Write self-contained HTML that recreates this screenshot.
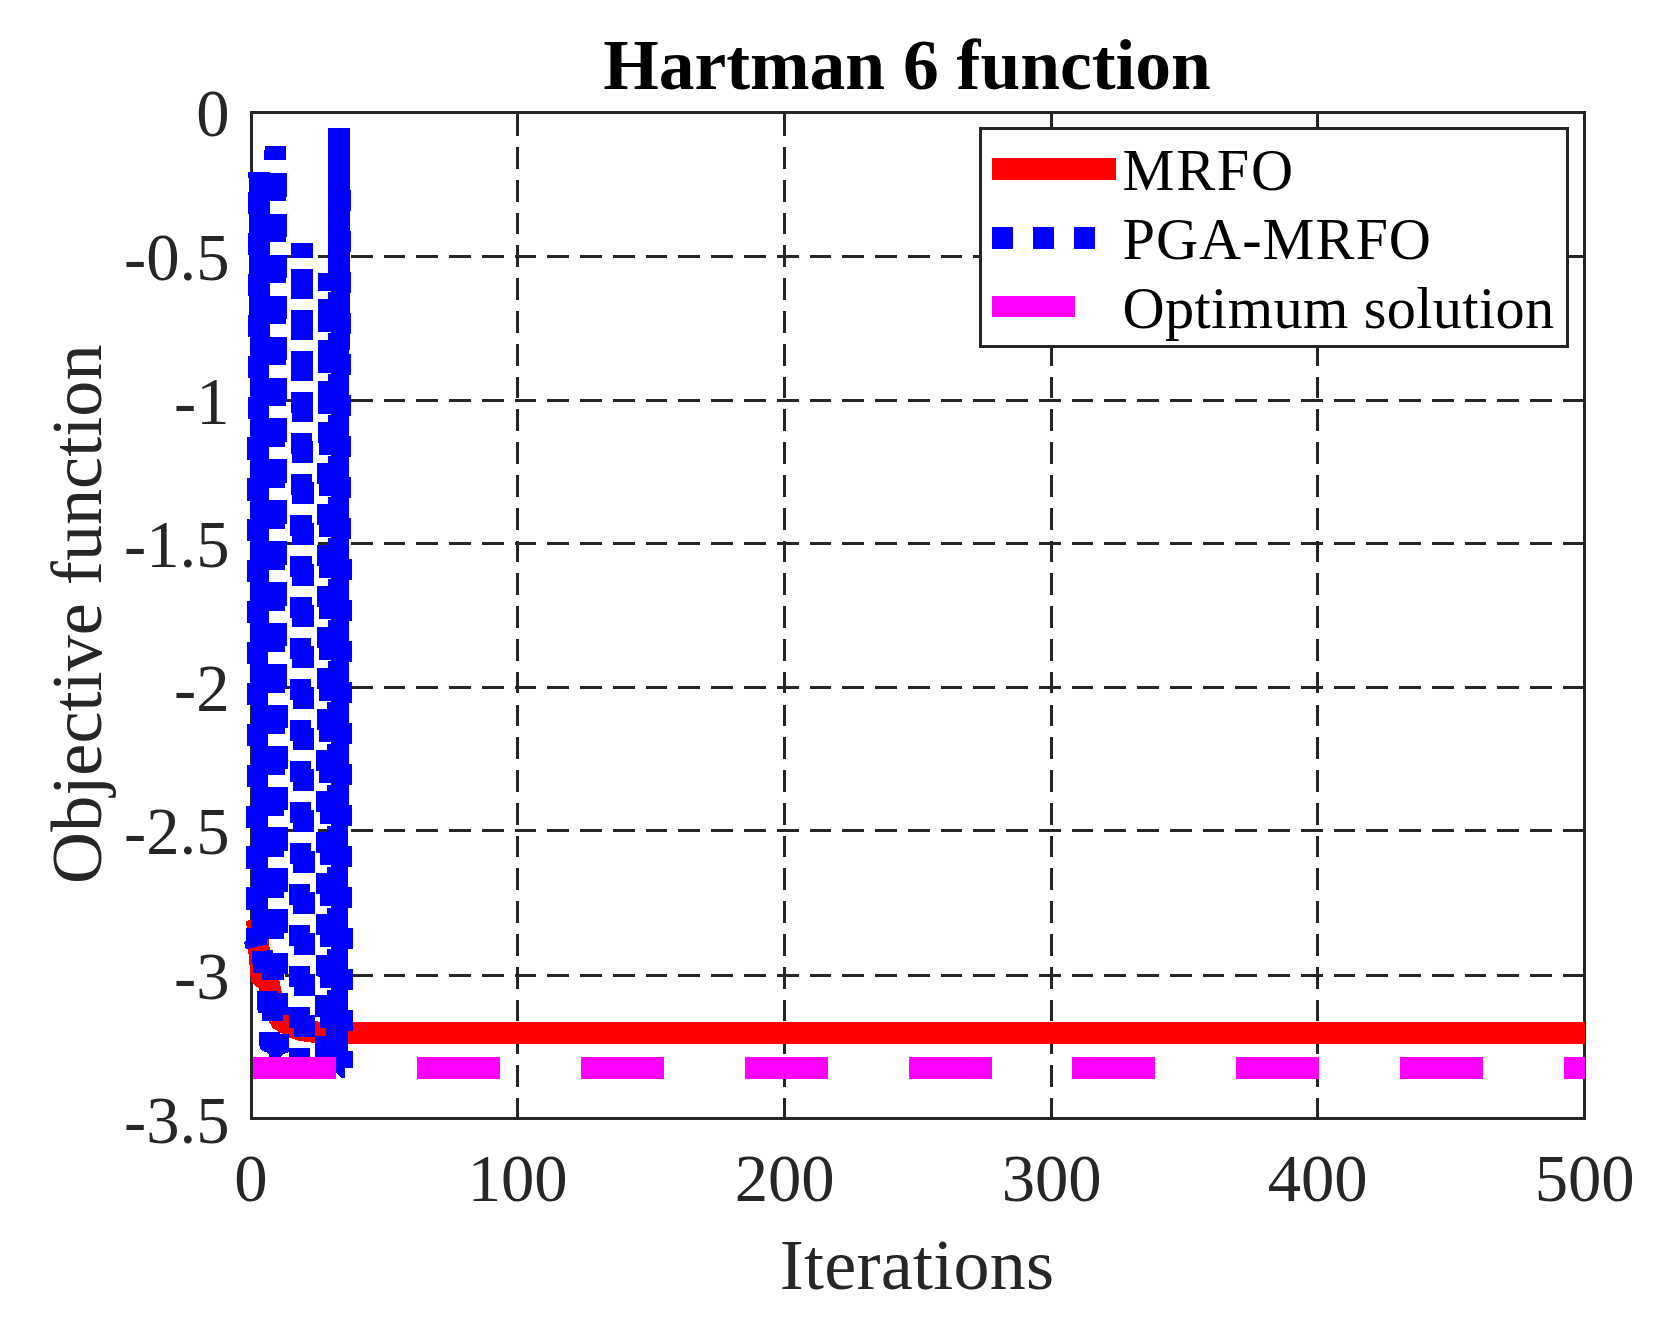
<!DOCTYPE html>
<html lang="en"><head><meta charset="utf-8"><title>Hartman 6 function</title>
<style>html,body{margin:0;padding:0;background:#fff;}body{width:1669px;height:1328px;overflow:hidden;}svg{display:block;}text{font-family:"Liberation Serif","Times New Roman",serif;}</style></head><body>
<svg width="1669" height="1328" viewBox="0 0 1669 1328" shape-rendering="crispEdges">
<rect width="1669" height="1328" fill="#fff"/>
<path fill="#262626" d="M253 255H274V258H253ZM285 255H307V258H285ZM318 255H340V258H318ZM351 255H373V258H351ZM384 255H405V258H384ZM416 255H438V258H416ZM449 255H471V258H449ZM482 255H504V258H482ZM515 255H536V258H515ZM547 255H569V258H547ZM580 255H602V258H580ZM613 255H635V258H613ZM646 255H667V258H646ZM678 255H700V258H678ZM711 255H733V258H711ZM744 255H766V258H744ZM777 255H799V258H777ZM810 255H831V258H810ZM842 255H864V258H842ZM875 255H897V258H875ZM908 255H930V258H908ZM941 255H962V258H941ZM973 255H995V258H973ZM1006 255H1028V258H1006ZM1039 255H1061V258H1039ZM1072 255H1093V258H1072ZM1104 255H1126V258H1104ZM1137 255H1159V258H1137ZM1170 255H1192V258H1170ZM1203 255H1224V258H1203ZM1235 255H1257V258H1235ZM1268 255H1290V258H1268ZM1301 255H1323V258H1301ZM1334 255H1355V258H1334ZM1366 255H1388V258H1366ZM1399 255H1421V258H1399ZM1432 255H1454V258H1432ZM1465 255H1486V258H1465ZM1497 255H1519V258H1497ZM1530 255H1552V258H1530ZM1563 255H1584V258H1563ZM253 399H274V402H253ZM285 399H307V402H285ZM318 399H340V402H318ZM351 399H373V402H351ZM384 399H405V402H384ZM416 399H438V402H416ZM449 399H471V402H449ZM482 399H504V402H482ZM515 399H536V402H515ZM547 399H569V402H547ZM580 399H602V402H580ZM613 399H635V402H613ZM646 399H667V402H646ZM678 399H700V402H678ZM711 399H733V402H711ZM744 399H766V402H744ZM777 399H799V402H777ZM810 399H831V402H810ZM842 399H864V402H842ZM875 399H897V402H875ZM908 399H930V402H908ZM941 399H962V402H941ZM973 399H995V402H973ZM1006 399H1028V402H1006ZM1039 399H1061V402H1039ZM1072 399H1093V402H1072ZM1104 399H1126V402H1104ZM1137 399H1159V402H1137ZM1170 399H1192V402H1170ZM1203 399H1224V402H1203ZM1235 399H1257V402H1235ZM1268 399H1290V402H1268ZM1301 399H1323V402H1301ZM1334 399H1355V402H1334ZM1366 399H1388V402H1366ZM1399 399H1421V402H1399ZM1432 399H1454V402H1432ZM1465 399H1486V402H1465ZM1497 399H1519V402H1497ZM1530 399H1552V402H1530ZM1563 399H1584V402H1563ZM253 542H274V545H253ZM285 542H307V545H285ZM318 542H340V545H318ZM351 542H373V545H351ZM384 542H405V545H384ZM416 542H438V545H416ZM449 542H471V545H449ZM482 542H504V545H482ZM515 542H536V545H515ZM547 542H569V545H547ZM580 542H602V545H580ZM613 542H635V545H613ZM646 542H667V545H646ZM678 542H700V545H678ZM711 542H733V545H711ZM744 542H766V545H744ZM777 542H799V545H777ZM810 542H831V545H810ZM842 542H864V545H842ZM875 542H897V545H875ZM908 542H930V545H908ZM941 542H962V545H941ZM973 542H995V545H973ZM1006 542H1028V545H1006ZM1039 542H1061V545H1039ZM1072 542H1093V545H1072ZM1104 542H1126V545H1104ZM1137 542H1159V545H1137ZM1170 542H1192V545H1170ZM1203 542H1224V545H1203ZM1235 542H1257V545H1235ZM1268 542H1290V545H1268ZM1301 542H1323V545H1301ZM1334 542H1355V545H1334ZM1366 542H1388V545H1366ZM1399 542H1421V545H1399ZM1432 542H1454V545H1432ZM1465 542H1486V545H1465ZM1497 542H1519V545H1497ZM1530 542H1552V545H1530ZM1563 542H1584V545H1563ZM253 686H274V689H253ZM285 686H307V689H285ZM318 686H340V689H318ZM351 686H373V689H351ZM384 686H405V689H384ZM416 686H438V689H416ZM449 686H471V689H449ZM482 686H504V689H482ZM515 686H536V689H515ZM547 686H569V689H547ZM580 686H602V689H580ZM613 686H635V689H613ZM646 686H667V689H646ZM678 686H700V689H678ZM711 686H733V689H711ZM744 686H766V689H744ZM777 686H799V689H777ZM810 686H831V689H810ZM842 686H864V689H842ZM875 686H897V689H875ZM908 686H930V689H908ZM941 686H962V689H941ZM973 686H995V689H973ZM1006 686H1028V689H1006ZM1039 686H1061V689H1039ZM1072 686H1093V689H1072ZM1104 686H1126V689H1104ZM1137 686H1159V689H1137ZM1170 686H1192V689H1170ZM1203 686H1224V689H1203ZM1235 686H1257V689H1235ZM1268 686H1290V689H1268ZM1301 686H1323V689H1301ZM1334 686H1355V689H1334ZM1366 686H1388V689H1366ZM1399 686H1421V689H1399ZM1432 686H1454V689H1432ZM1465 686H1486V689H1465ZM1497 686H1519V689H1497ZM1530 686H1552V689H1530ZM1563 686H1584V689H1563ZM253 829H274V832H253ZM285 829H307V832H285ZM318 829H340V832H318ZM351 829H373V832H351ZM384 829H405V832H384ZM416 829H438V832H416ZM449 829H471V832H449ZM482 829H504V832H482ZM515 829H536V832H515ZM547 829H569V832H547ZM580 829H602V832H580ZM613 829H635V832H613ZM646 829H667V832H646ZM678 829H700V832H678ZM711 829H733V832H711ZM744 829H766V832H744ZM777 829H799V832H777ZM810 829H831V832H810ZM842 829H864V832H842ZM875 829H897V832H875ZM908 829H930V832H908ZM941 829H962V832H941ZM973 829H995V832H973ZM1006 829H1028V832H1006ZM1039 829H1061V832H1039ZM1072 829H1093V832H1072ZM1104 829H1126V832H1104ZM1137 829H1159V832H1137ZM1170 829H1192V832H1170ZM1203 829H1224V832H1203ZM1235 829H1257V832H1235ZM1268 829H1290V832H1268ZM1301 829H1323V832H1301ZM1334 829H1355V832H1334ZM1366 829H1388V832H1366ZM1399 829H1421V832H1399ZM1432 829H1454V832H1432ZM1465 829H1486V832H1465ZM1497 829H1519V832H1497ZM1530 829H1552V832H1530ZM1563 829H1584V832H1563ZM253 974H274V977H253ZM285 974H307V977H285ZM318 974H340V977H318ZM351 974H373V977H351ZM384 974H405V977H384ZM416 974H438V977H416ZM449 974H471V977H449ZM482 974H504V977H482ZM515 974H536V977H515ZM547 974H569V977H547ZM580 974H602V977H580ZM613 974H635V977H613ZM646 974H667V977H646ZM678 974H700V977H678ZM711 974H733V977H711ZM744 974H766V977H744ZM777 974H799V977H777ZM810 974H831V977H810ZM842 974H864V977H842ZM875 974H897V977H875ZM908 974H930V977H908ZM941 974H962V977H941ZM973 974H995V977H973ZM1006 974H1028V977H1006ZM1039 974H1061V977H1039ZM1072 974H1093V977H1072ZM1104 974H1126V977H1104ZM1137 974H1159V977H1137ZM1170 974H1192V977H1170ZM1203 974H1224V977H1203ZM1235 974H1257V977H1235ZM1268 974H1290V977H1268ZM1301 974H1323V977H1301ZM1334 974H1355V977H1334ZM1366 974H1388V977H1366ZM1399 974H1421V977H1399ZM1432 974H1454V977H1432ZM1465 974H1486V977H1465ZM1497 974H1519V977H1497ZM1530 974H1552V977H1530ZM1563 974H1584V977H1563ZM516 114H519V136H516ZM516 147H519V169H516ZM516 180H519V202H516ZM516 213H519V234H516ZM516 245H519V267H516ZM516 278H519V300H516ZM516 311H519V333H516ZM516 344H519V366H516ZM516 377H519V398H516ZM516 409H519V431H516ZM516 442H519V464H516ZM516 475H519V497H516ZM516 508H519V530H516ZM516 541H519V562H516ZM516 573H519V595H516ZM516 606H519V628H516ZM516 639H519V661H516ZM516 672H519V693H516ZM516 705H519V726H516ZM516 737H519V759H516ZM516 770H519V792H516ZM516 803H519V825H516ZM516 836H519V857H516ZM516 868H519V890H516ZM516 901H519V923H516ZM516 934H519V956H516ZM516 967H519V989H516ZM516 1000H519V1021H516ZM516 1032H519V1054H516ZM516 1065H519V1087H516ZM516 1098H519V1118H516ZM783 114H786V136H783ZM783 147H786V169H783ZM783 180H786V202H783ZM783 213H786V234H783ZM783 245H786V267H783ZM783 278H786V300H783ZM783 311H786V333H783ZM783 344H786V366H783ZM783 377H786V398H783ZM783 409H786V431H783ZM783 442H786V464H783ZM783 475H786V497H783ZM783 508H786V530H783ZM783 541H786V562H783ZM783 573H786V595H783ZM783 606H786V628H783ZM783 639H786V661H783ZM783 672H786V693H783ZM783 705H786V726H783ZM783 737H786V759H783ZM783 770H786V792H783ZM783 803H786V825H783ZM783 836H786V857H783ZM783 868H786V890H783ZM783 901H786V923H783ZM783 934H786V956H783ZM783 967H786V989H783ZM783 1000H786V1021H783ZM783 1032H786V1054H783ZM783 1065H786V1087H783ZM783 1098H786V1118H783ZM1050 114H1053V136H1050ZM1050 147H1053V169H1050ZM1050 180H1053V202H1050ZM1050 213H1053V234H1050ZM1050 245H1053V267H1050ZM1050 278H1053V300H1050ZM1050 311H1053V333H1050ZM1050 344H1053V366H1050ZM1050 377H1053V398H1050ZM1050 409H1053V431H1050ZM1050 442H1053V464H1050ZM1050 475H1053V497H1050ZM1050 508H1053V530H1050ZM1050 541H1053V562H1050ZM1050 573H1053V595H1050ZM1050 606H1053V628H1050ZM1050 639H1053V661H1050ZM1050 672H1053V693H1050ZM1050 705H1053V726H1050ZM1050 737H1053V759H1050ZM1050 770H1053V792H1050ZM1050 803H1053V825H1050ZM1050 836H1053V857H1050ZM1050 868H1053V890H1050ZM1050 901H1053V923H1050ZM1050 934H1053V956H1050ZM1050 967H1053V989H1050ZM1050 1000H1053V1021H1050ZM1050 1032H1053V1054H1050ZM1050 1065H1053V1087H1050ZM1050 1098H1053V1118H1050ZM1316 114H1319V136H1316ZM1316 147H1319V169H1316ZM1316 180H1319V202H1316ZM1316 213H1319V234H1316ZM1316 245H1319V267H1316ZM1316 278H1319V300H1316ZM1316 311H1319V333H1316ZM1316 344H1319V366H1316ZM1316 377H1319V398H1316ZM1316 409H1319V431H1316ZM1316 442H1319V464H1316ZM1316 475H1319V497H1316ZM1316 508H1319V530H1316ZM1316 541H1319V562H1316ZM1316 573H1319V595H1316ZM1316 606H1319V628H1316ZM1316 639H1319V661H1316ZM1316 672H1319V693H1316ZM1316 705H1319V726H1316ZM1316 737H1319V759H1316ZM1316 770H1319V792H1316ZM1316 803H1319V825H1316ZM1316 836H1319V857H1316ZM1316 868H1319V890H1316ZM1316 901H1319V923H1316ZM1316 934H1319V956H1316ZM1316 967H1319V989H1316ZM1316 1000H1319V1021H1316ZM1316 1032H1319V1054H1316ZM1316 1065H1319V1087H1316ZM1316 1098H1319V1118H1316Z"/>
<g stroke="#262626" stroke-width="3" fill="none">
<path d="M517.5 112.5v13M517.5 1118.5v-13"/>
<path d="M784.5 112.5v13M784.5 1118.5v-13"/>
<path d="M1051.5 112.5v13M1051.5 1118.5v-13"/>
<path d="M1317.5 112.5v13M1317.5 1118.5v-13"/>
<path d="M251.5 256.5h13M1584.5 256.5h-13"/>
<path d="M251.5 400.5h13M1584.5 400.5h-13"/>
<path d="M251.5 543.5h13M1584.5 543.5h-13"/>
<path d="M251.5 687.5h13M1584.5 687.5h-13"/>
<path d="M251.5 830.5h13M1584.5 830.5h-13"/>
<path d="M251.5 975.5h13M1584.5 975.5h-13"/>
<rect x="251.5" y="112.5" width="1333.0" height="1006.0"/>
</g>
<polyline fill="none" stroke="#ff0000" stroke-width="21.6" stroke-linejoin="miter" points="257.0,920.0 258.2,942.0 259.8,958.0 261.3,976.3 269.0,983.3 271.6,996.0 274.0,1006.0 277.0,1014.0 280.6,1020.4 286.2,1023.6 293.6,1027.8 301.8,1030.3 315.5,1032.2 330.0,1032.9 1585.0,1032.9"/>
<path fill="#0000ff" d="M265.0 146.0L286.0 146.0L286.0 160.0L264.0 160.0L264.0 150.0L265.0 150.0ZM248.0 172.0H270.0V178.0H248.0ZM249.0 173.0H286.5V196.5H249.0ZM248.0 192.0H286.0V200.5H248.0ZM248.0 200.0H270.0V214.2H248.0ZM249.1 213.9H286.6V237.4H249.1ZM247.9 232.9H285.9V241.5H247.9ZM247.9 240.9H269.9V255.1H247.9ZM249.2 254.8H286.7V278.3H249.2ZM247.8 273.8H285.8V282.5H247.8ZM247.8 281.8H269.7V296.0H247.8ZM249.3 295.7H286.7V319.2H249.3ZM247.7 314.7H285.7V323.5H247.7ZM247.7 322.7H269.6V336.9H247.7ZM249.5 336.6H286.8V360.1H249.5ZM247.6 355.6H285.6V364.5H247.6ZM247.6 363.6H269.4V377.8H247.6ZM249.6 377.5H286.9V401.0H249.6ZM247.5 396.5H285.5V405.5H247.5ZM247.5 404.5H269.3V418.7H247.5ZM249.7 418.4H287.0V441.9H249.7ZM247.4 437.4H285.4V446.5H247.4ZM247.4 445.4H269.1V459.6H247.4ZM249.8 459.3H287.1V482.8H249.8ZM247.3 478.3H285.3V487.5H247.3ZM247.3 486.3H269.0V500.5H247.3ZM249.9 500.2H287.1V523.7H249.9ZM247.2 519.2H285.2V528.5H247.2ZM247.2 527.2H268.9V541.4H247.2ZM250.0 541.1H287.2V564.6H250.0ZM247.1 560.1H285.1V569.5H247.1ZM247.1 568.1H268.7V582.3H247.1ZM250.2 582.0H287.3V605.5H250.2ZM246.9 601.0H284.9V610.6H246.9ZM246.9 609.0H268.6V623.2H246.9ZM250.3 622.9H287.4V646.4H250.3ZM246.8 641.9H284.8V651.6H246.8ZM246.8 649.9H268.4V664.1H246.8ZM250.4 663.8H287.4V687.3H250.4ZM246.7 682.8H284.7V692.6H246.7ZM246.7 690.8H268.3V705.0H246.7ZM250.5 704.7H287.5V728.2H250.5ZM246.6 723.7H284.6V733.6H246.6ZM246.6 731.7H268.2V745.9H246.6ZM250.6 745.6H287.6V769.1H250.6ZM246.5 764.6H284.5V774.6H246.5ZM246.5 772.6H268.0V786.8H246.5ZM250.7 786.5H287.7V810.0H250.7ZM246.4 805.5H284.4V815.6H246.4ZM246.4 813.5H267.9V827.7H246.4ZM250.9 827.4H287.8V850.9H250.9ZM246.3 846.4H284.3V856.6H246.3ZM246.3 854.4H267.7V868.6H246.3ZM251.0 868.3H287.8V891.8H251.0ZM246.2 887.3H284.2V897.6H246.2ZM246.2 895.3H267.6V909.5H246.2ZM251.1 909.2H287.9V932.7H251.1ZM246.1 928.2H284.1V938.6H246.1ZM246.0 936.2L267.3 936.2L267.3 945.0L259.0 946.0L252.0 948.0L248.0 949.0L246.0 949.0L245.0 946.0L244.0 942.0L246.0 941.0ZM252.0 951.0L266.0 951.0L266.0 950.0L273.0 950.0L273.0 953.0L288.0 953.0L288.0 974.0L284.0 974.0L284.0 980.0L262.0 980.0L262.0 973.0L253.0 973.0L253.0 964.0L252.0 964.0ZM257.0 991.0L278.0 991.0L278.0 993.0L288.0 993.0L288.0 1007.0L289.0 1007.0L289.0 1015.0L283.0 1015.0L283.0 1021.0L262.0 1021.0L262.0 1013.0L258.0 1013.0L258.0 1009.5L257.0 1009.5ZM259.0 1032.0L280.0 1032.0L280.0 1034.0L289.0 1034.0L289.0 1052.0L283.0 1054.0L280.0 1058.0L270.0 1058.0L268.0 1053.0L265.0 1052.0L261.0 1050.0L259.0 1045.0ZM291.0 243.0H313.0V257.7H291.0ZM291.0 269.0H313.0V278.0H291.0ZM291.0 277.0H313.0V290.0H291.0ZM291.0 289.0H313.0V299.0H291.0ZM290.9 310.0H312.8V319.0H290.9ZM290.9 318.0H313.1V331.0H290.9ZM291.2 330.0H313.1V340.0H291.2ZM290.8 351.0H312.7V360.0H290.8ZM290.8 359.0H313.2V372.0H290.8ZM291.3 371.0H313.2V381.0H291.3ZM290.7 392.0H312.5V401.0H290.7ZM290.7 400.0H313.3V413.0H290.7ZM291.5 412.0H313.3V422.0H291.5ZM290.6 433.0H312.3V442.0H290.6ZM290.6 441.0H313.4V454.0H290.6ZM291.6 453.0H313.4V463.0H291.6ZM290.5 474.0H312.1V483.0H290.5ZM290.5 482.0H313.5V495.0H290.5ZM291.8 494.0H313.5V504.0H291.8ZM290.4 515.0H312.0V524.0H290.4ZM290.4 523.0H313.6V536.0H290.4ZM291.9 535.0H313.6V545.0H291.9ZM290.3 556.0H311.8V565.0H290.3ZM290.3 564.0H313.7V577.0H290.3ZM292.1 576.0H313.7V586.0H292.1ZM290.2 597.0H311.6V606.0H290.2ZM290.2 605.0H313.8V618.0H290.2ZM292.3 617.0H313.8V627.0H292.3ZM290.1 638.0H311.4V647.0H290.1ZM290.1 646.0H313.9V659.0H290.1ZM292.4 658.0H313.9V668.0H292.4ZM289.9 679.0H311.3V688.0H289.9ZM289.9 687.0H314.1V700.0H289.9ZM292.6 699.0H314.1V709.0H292.6ZM289.8 720.0H311.1V729.0H289.8ZM289.8 728.0H314.2V741.0H289.8ZM292.7 740.0H314.2V750.0H292.7ZM289.7 761.0H310.9V770.0H289.7ZM289.7 769.0H314.3V782.0H289.7ZM292.9 781.0H314.3V791.0H292.9ZM289.6 802.0H310.7V811.0H289.6ZM289.6 810.0H314.4V823.0H289.6ZM293.1 822.0H314.4V832.0H293.1ZM289.5 843.0H310.6V852.0H289.5ZM289.5 851.0H314.5V864.0H289.5ZM293.2 863.0H314.5V873.0H293.2ZM289.4 884.0H310.4V893.0H289.4ZM289.4 892.0H314.6V905.0H289.4ZM293.4 904.0H314.6V914.0H293.4ZM289.3 925.0H310.2V934.0H289.3ZM289.3 933.0H314.7V946.0H289.3ZM293.5 945.0H314.7V955.0H293.5ZM289.2 966.0H310.0V975.0H289.2ZM289.2 974.0H314.8V987.0H289.2ZM293.7 986.0H314.8V996.0H293.7ZM289.1 1007.0H309.9V1016.0H289.1ZM289.1 1015.0H314.9V1028.0H289.1ZM293.8 1027.0H314.9V1037.0H293.8ZM289.0 1048.0H310.0V1058.0H289.0ZM331.0 128.0L350.0 128.0L348.0 1068.0L331.0 1068.0ZM340.0 149.0H350.4V170.0H340.0ZM340.0 190.0H350.5V211.0H340.0ZM340.0 231.0H350.6V252.0H340.0ZM340.0 272.0H350.7V293.0H340.0ZM340.0 313.0H350.8V334.0H340.0ZM340.0 354.0H350.9V375.0H340.0ZM340.0 395.0H351.1V416.0H340.0ZM340.0 436.0H351.2V457.0H340.0ZM340.0 477.0H351.3V498.0H340.0ZM340.0 518.0H351.4V539.0H340.0ZM340.0 559.0H351.5V580.0H340.0ZM340.0 600.0H351.6V621.0H340.0ZM340.0 641.0H351.7V662.0H340.0ZM340.0 682.0H351.8V703.0H340.0ZM340.0 723.0H351.9V744.0H340.0ZM340.0 764.0H352.0V785.0H340.0ZM340.0 805.0H352.1V826.0H340.0ZM340.0 846.0H352.3V867.0H340.0ZM340.0 887.0H352.4V908.0H340.0ZM340.0 928.0H352.5V949.0H340.0ZM340.0 969.0H352.6V990.0H340.0ZM340.0 1010.0H352.7V1031.0H340.0ZM340.0 1051.0H352.8V1068.0H340.0ZM328.0 128.0H332.0V290.8H328.0ZM318.0 273.0H332.0V278.8H318.0ZM318.0 277.8H332.0V290.8H318.0ZM328.0 291.6H332.0V299.0H328.0ZM328.0 298.8H332.0V300.0H328.0ZM317.9 298.6H332.0V319.8H317.9ZM318.1 318.8H332.0V331.8H318.1ZM327.9 332.7H332.0V340.0H327.9ZM327.9 339.8H332.0V341.0H327.9ZM317.7 339.6H332.0V360.8H317.7ZM318.2 359.8H332.0V372.8H318.2ZM327.9 373.8H332.0V381.0H327.9ZM327.9 380.8H332.0V382.0H327.9ZM317.6 380.6H332.0V401.8H317.6ZM318.4 400.8H332.0V413.8H318.4ZM327.8 414.8H332.0V422.0H327.8ZM327.8 421.8H332.0V423.0H327.8ZM317.5 421.6H332.0V442.8H317.5ZM318.5 441.8H332.0V454.8H318.5ZM327.8 455.9H332.0V463.0H327.8ZM327.8 462.8H332.0V464.0H327.8ZM317.4 462.6H332.0V483.8H317.4ZM318.6 482.8H332.0V495.8H318.6ZM327.7 497.0H332.0V504.0H327.7ZM327.7 503.8H332.0V505.0H327.7ZM317.2 503.6H332.0V524.8H317.2ZM318.7 523.8H332.0V536.8H318.7ZM327.6 538.1H332.0V545.0H327.6ZM327.6 544.8H332.0V546.0H327.6ZM317.1 544.6H332.0V565.8H317.1ZM318.8 564.8H332.0V577.8H318.8ZM327.6 579.2H332.0V586.0H327.6ZM327.6 585.8H332.0V587.0H327.6ZM317.0 585.6H332.0V606.8H317.0ZM318.9 605.8H332.0V618.8H318.9ZM327.5 620.3H332.0V627.0H327.5ZM327.5 626.8H332.0V628.0H327.5ZM316.8 626.6H332.0V647.8H316.8ZM319.1 646.8H332.0V659.8H319.1ZM327.5 661.3H332.0V668.0H327.5ZM327.5 667.8H332.0V669.0H327.5ZM316.7 667.6H332.0V688.8H316.7ZM319.2 687.8H332.0V700.8H319.2ZM327.4 702.4H332.0V709.0H327.4ZM327.4 708.8H332.0V710.0H327.4ZM316.6 708.6H332.0V729.8H316.6ZM319.3 728.8H332.0V741.8H319.3ZM327.4 743.5H332.0V750.0H327.4ZM327.4 749.8H332.0V751.0H327.4ZM316.4 749.6H332.0V770.8H316.4ZM319.4 769.8H332.0V782.8H319.4ZM327.3 784.6H332.0V791.0H327.3ZM327.3 790.8H332.0V792.0H327.3ZM316.3 790.6H332.0V811.8H316.3ZM319.5 810.8H332.0V823.8H319.5ZM327.2 825.7H332.0V832.0H327.2ZM327.2 831.8H332.0V833.0H327.2ZM316.2 831.6H332.0V852.8H316.2ZM319.6 851.8H332.0V864.8H319.6ZM327.2 866.8H332.0V873.0H327.2ZM327.2 872.8H332.0V874.0H327.2ZM316.1 872.6H332.0V893.8H316.1ZM319.8 892.8H332.0V905.8H319.8ZM327.1 907.8H332.0V914.0H327.1ZM327.1 913.8H332.0V915.0H327.1ZM315.9 913.6H332.0V934.8H315.9ZM319.9 933.8H332.0V946.8H319.9ZM327.1 948.9H332.0V955.0H327.1ZM327.1 954.8H332.0V956.0H327.1ZM315.8 954.6H332.0V975.8H315.8ZM320.0 974.8H332.0V987.8H320.0ZM327.0 990.0H332.0V996.0H327.0ZM315.0 995.0H332.0V1017.0H315.0ZM320.0 1017.0H332.0V1028.0H320.0ZM326.0 1028.0H332.0V1037.0H326.0ZM315.0 1036.0H332.0V1058.0H315.0ZM326.0 1058.0H332.0V1068.0H326.0ZM336.0 1066.0L345.0 1066.0L345.0 1078.0L341.0 1078.0L336.0 1072.0Z"/>
<g fill="#ff00ff">
<rect x="253.0" y="1057" width="83.0" height="21.8"/>
<rect x="416.9" y="1057" width="83.0" height="21.8"/>
<rect x="580.7" y="1057" width="83.0" height="21.8"/>
<rect x="744.6" y="1057" width="83.0" height="21.8"/>
<rect x="908.5" y="1057" width="83.0" height="21.8"/>
<rect x="1072.3" y="1057" width="83.0" height="21.8"/>
<rect x="1236.2" y="1057" width="83.0" height="21.8"/>
<rect x="1400.1" y="1057" width="83.0" height="21.8"/>
<rect x="1564.0" y="1057" width="21.0" height="21.8"/>
</g>
<rect x="980.5" y="128.5" width="587" height="217.5" fill="#fff" stroke="#262626" stroke-width="3"/>
<rect x="992" y="158" width="124" height="21.8" fill="#ff0000"/>
<rect x="992" y="227" width="21" height="22" fill="#0000ff"/>
<rect x="1033" y="227" width="21" height="22" fill="#0000ff"/>
<rect x="1074" y="227" width="21" height="22" fill="#0000ff"/>
<rect x="992" y="296" width="83" height="21" fill="#ff00ff"/>
<g font-size="58.33" fill="#000">
<text x="1122.5" y="189.7" letter-spacing="1.8">MRFO</text>
<text x="1122.5" y="258.8" letter-spacing="1">PGA-MRFO</text>
<text x="1122.5" y="328.3" letter-spacing="0.37">Optimum solution</text>
</g>
<g font-size="66.67" fill="#262626">
<text x="229.5" y="135.9" text-anchor="end">0</text>
<text x="229.5" y="279.7" text-anchor="end">-0.5</text>
<text x="229.5" y="423.7" text-anchor="end">-1</text>
<text x="229.5" y="566.7" text-anchor="end">-1.5</text>
<text x="229.5" y="710.7" text-anchor="end">-2</text>
<text x="229.5" y="853.7" text-anchor="end">-2.5</text>
<text x="229.5" y="998.7" text-anchor="end">-3</text>
<text x="229.5" y="1142.7" text-anchor="end">-3.5</text>
<text x="250.8" y="1201.3" text-anchor="middle">0</text>
<text x="517.7" y="1201.3" text-anchor="middle">100</text>
<text x="784.7" y="1201.3" text-anchor="middle">200</text>
<text x="1051.7" y="1201.3" text-anchor="middle">300</text>
<text x="1317.7" y="1201.3" text-anchor="middle">400</text>
<text x="1584.7" y="1201.3" text-anchor="middle">500</text>
</g>
<text x="917" y="1289.4" font-size="72" letter-spacing="0.25" text-anchor="middle" fill="#262626">Iterations</text>
<text transform="translate(100.9,614.2) rotate(-90)" font-size="72" letter-spacing="0.09" text-anchor="middle" fill="#262626">Objective function</text>
<text x="907" y="89" font-size="71.5" font-weight="bold" text-anchor="middle" fill="#000">Hartman 6 function</text>
</svg></body></html>
